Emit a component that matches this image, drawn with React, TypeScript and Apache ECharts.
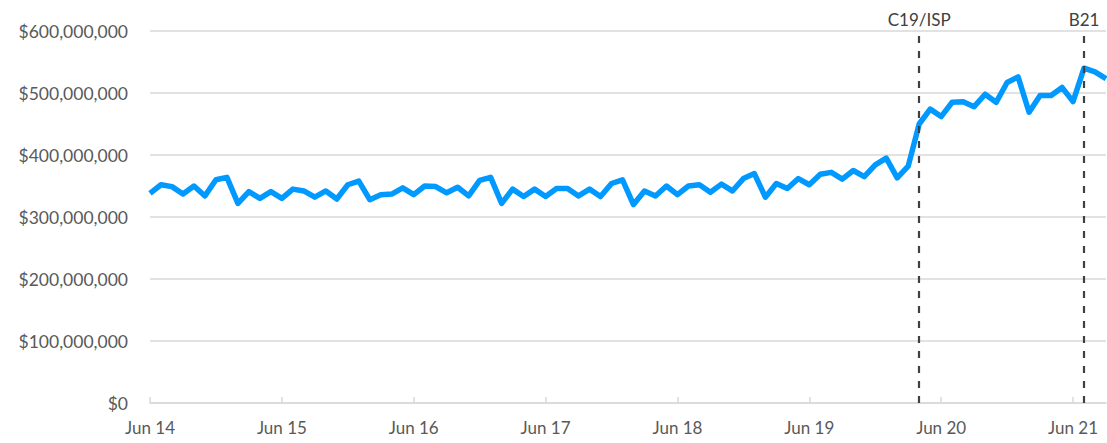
import React, { useEffect, useRef } from "react";
import * as echarts from "echarts";

const monthNames = ["Jan", "Feb", "Mar", "Apr", "May", "Jun", "Jul", "Aug", "Sep", "Oct", "Nov", "Dec"];
const startYear = 2014;
const startMonth = 5; // June
const pointCount = 88;
const categories: string[] = [];
for (let i = 0; i < pointCount; i++) {
  const m = (startMonth + i) % 12;
  const y = startYear + Math.floor((startMonth + i) / 12);
  categories.push(`${monthNames[m]} ${String(y % 100).padStart(2, "0")}`);
}

// Values in millions of dollars
const values = [
  338, 352, 349, 337, 350, 334, 360, 364, 322, 341, 330, 341,
  330, 345, 342, 332, 342, 329, 352, 358, 328, 336, 337, 347,
  336, 350, 349, 339, 348, 334, 359, 364, 322, 345, 333, 345,
  333, 346, 346, 334, 345, 333, 354, 360, 320, 342, 334, 350,
  336, 350, 352, 340, 353, 342, 362, 370, 332, 354, 346, 362,
  352, 369, 372, 361, 375, 365, 384, 395, 363, 382, 450, 474,
  462, 485, 486, 478, 498, 485, 517, 526, 469, 496, 496, 509,
  486, 540, 534, 523,
];

const events = [
  { at: "Apr 20", label: "C19/ISP" },
  { at: "Jul 21", label: "B21" },
];

const yTicks = [0, 100, 200, 300, 400, 500, 600];

export default function App() {
  const ref = useRef<HTMLDivElement>(null);
  useEffect(() => {
    if (!ref.current) return;
    const chart = echarts.init(ref.current, null, { renderer: "svg" });
    const font = "Lato, 'Open Sans', sans-serif";
    chart.setOption({
      animation: false,
      grid: { left: 150, right: 1, top: 31, bottom: 40, containLabel: false },
      xAxis: {
        type: "category",
        data: categories,
        boundaryGap: false,
        axisLine: { lineStyle: { color: "#d9d9d9", width: 1.5 } },
        axisTick: { show: true, inside: true, length: 6, interval: 11, lineStyle: { color: "#d9d9d9", width: 1.5 } },
        axisLabel: {
          interval: 11,
          color: "#595959",
          fontSize: 17,
          fontFamily: font,
          margin: 16,
        },
        splitLine: { show: false },
      },
      yAxis: {
        type: "value",
        min: yTicks[0],
        max: yTicks[yTicks.length - 1],
        interval: 100,
        axisLine: { show: false },
        axisTick: { show: false },
        axisLabel: {
          color: "#595959",
          fontSize: 17.5,
          fontFamily: font,
          margin: 22,
          formatter: (v: number) => (v === 0 ? "$0" : `$${v},000,000`),
        },
        splitLine: { lineStyle: { color: "#d9d9d9", width: 1.5 } },
      },
      series: [
        {
          type: "line",
          data: values,
          symbol: "none",
          lineStyle: { color: "#0099ff", width: 5.5, join: "round" },
          markLine: {
            silent: true,
            symbol: ["none", "none"],
            animation: false,
            lineStyle: { color: "#404040", width: 2.2, type: [7, 8] },
            label: {
              show: true,
              position: "end",
              distance: 3,
              color: "#404040",
              fontSize: 17,
              fontFamily: font,
            },
            data: events.map((e) => ({
              xAxis: e.at,
              label: { formatter: e.label },
            })),
          },
        },
      ],
    });
    return () => chart.dispose();
  }, []);
  return (
    <div
      ref={ref}
      style={{ position: "fixed", left: 0, top: 0, width: 1107, height: 443, background: "#fff" }}
    />
  );
}
